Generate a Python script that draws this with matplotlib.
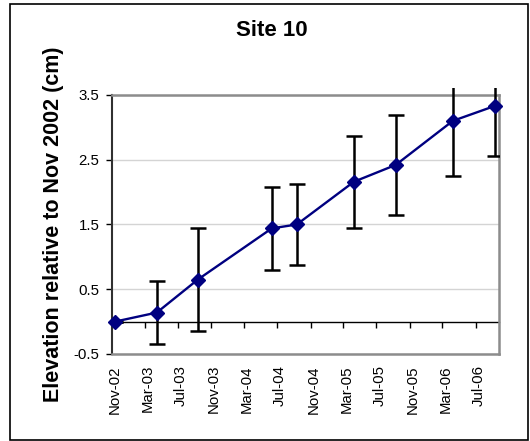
import matplotlib
matplotlib.use('Agg')
import matplotlib.pyplot as plt
import matplotlib.dates as mdates
import matplotlib.transforms as mtransforms
from matplotlib.patches import Rectangle
import numpy as np

plt.rcParams['font.family'] = ['Liberation Sans', 'DejaVu Sans']

# survey dates and elevation change (cm) with error bars
dates = np.array(['2002-11-12', '2003-04-15', '2003-09-13', '2004-06-11', '2004-09-11',
                  '2005-04-09', '2005-09-10', '2006-04-08', '2006-09-09'], dtype='datetime64[D]')
elev = [0.0, 0.14, 0.65, 1.44, 1.50, 2.16, 2.42, 3.10, 3.33]
err = [0.0, 0.49, 0.79, 0.64, 0.62, 0.71, 0.77, 0.85, 0.77]

tick_dates = np.array(['2002-11-01', '2003-03-01', '2003-07-01', '2003-11-01', '2004-03-01',
                       '2004-07-01', '2004-11-01', '2005-03-01', '2005-07-01', '2005-11-01',
                       '2006-03-01', '2006-07-01'], dtype='datetime64[D]')
y_ticks = [-0.5, 0.5, 1.5, 2.5, 3.5]

fig = plt.figure(figsize=(5.30, 4.41), dpi=100)
ax = fig.add_axes([0.2113, 0.1973, 0.7302, 0.5873])

# outer chart border
fig.patches.append(Rectangle((10 / 530, 1 / 441), 518 / 530, 436 / 441, transform=fig.transFigure,
                             fill=False, edgecolor='black', linewidth=1.2))

ax.set_xlim(np.datetime64('2002-11-01'), np.datetime64('2006-09-25'))
ax.set_ylim(-0.5, 3.5)
ax.set_yticks(y_ticks)
ax.set_yticklabels([f'{v:.1f}' for v in y_ticks])
ax.grid(axis='y', color='#d4d4d4', linewidth=1)
ax.set_axisbelow(True)

for side in ['top', 'right', 'bottom']:
    ax.spines[side].set_color('#8c8c8c')
    ax.spines[side].set_linewidth(1.8)
ax.spines['left'].set_color('#303030')
ax.spines['left'].set_linewidth(1.5)

ax.set_xticks(tick_dates)
ax.xaxis.set_major_formatter(mdates.DateFormatter('%b-%y'))
ax.tick_params(axis='x', length=0, pad=8, labelsize=10.8, labelrotation=90)
ax.tick_params(axis='y', length=4, width=1, direction='out', pad=5, labelsize=10.8)
offset = mtransforms.ScaledTranslation(3 / 100, 0, fig.dpi_scale_trans)
for lbl in ax.get_xticklabels():
    lbl.set_transform(lbl.get_transform() + offset)

# zero line with ticks
sec = ax.secondary_xaxis(0.125)
sec.set_xticks(tick_dates)
sec.tick_params(axis='x', length=4, width=1, direction='out', labelbottom=False, color='black')
sec.spines['bottom'].set_color('black')
sec.spines['bottom'].set_linewidth(1)

eb = ax.errorbar(dates, elev, yerr=err, fmt='none', ecolor='black', elinewidth=1.8,
                 capsize=5.8, capthick=1.8, zorder=3)
clip = Rectangle((0, -0.1), 1, 1.127, transform=ax.transAxes, visible=False)
ax.add_patch(clip)
for art in list(eb.lines[1]) + list(eb.lines[2]):
    art.set_clip_on(True)
    art.set_clip_path(clip)

ax.plot(dates, elev, color='#000080', linewidth=1.7, marker='D', markersize=7,
        markerfacecolor='#000080', markeredgecolor='#000080', zorder=4, clip_on=False)

ax.set_ylabel('Elevation relative to Nov 2002 (cm)', fontsize=15.5, fontweight='bold')
ax.yaxis.set_label_coords(-0.125, 0.5)
fig.text(272 / 530, 1 - 31 / 441, 'Site 10', ha='center', va='center', fontsize=16, fontweight='bold')

fig.savefig('out.png', dpi=100)
